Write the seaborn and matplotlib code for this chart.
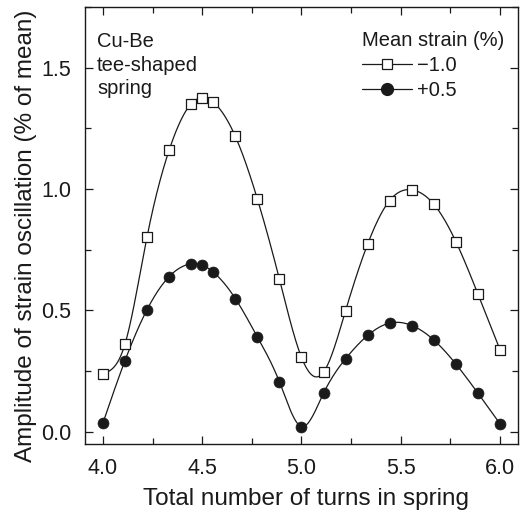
import numpy as np
import pandas as pd
import matplotlib
matplotlib.use("Agg")
import matplotlib.pyplot as plt
import seaborn as sns
from matplotlib.ticker import MultipleLocator
from matplotlib.lines import Line2D

# ---- data ----
turns_neg = [4.0, 4.111, 4.222, 4.333, 4.444, 4.5, 4.556, 4.667, 4.778, 4.889,
             5.0, 5.111, 5.222, 5.333, 5.444, 5.556, 5.667, 5.778, 5.889, 6.0]
amp_neg = [0.239, 0.361, 0.802, 1.159, 1.351, 1.377, 1.358, 1.217, 0.959, 0.629,
           0.307, 0.246, 0.499, 0.773, 0.953, 0.997, 0.937, 0.783, 0.567, 0.338]
turns_pos = [4.0, 4.111, 4.222, 4.333, 4.444, 4.5, 4.556, 4.667, 4.778, 4.889,
             5.0, 5.111, 5.222, 5.333, 5.444, 5.556, 5.667, 5.778, 5.889, 6.0]
amp_pos = [0.036, 0.293, 0.503, 0.639, 0.692, 0.687, 0.658, 0.549, 0.391, 0.206,
           0.022, 0.159, 0.301, 0.397, 0.448, 0.438, 0.378, 0.279, 0.159, 0.033]
series_labels = ["\u22121.0", "+0.5"]
legend_title = "Mean strain (%)"
note = "Cu-Be\ntee-shaped\nspring"
xticks = [4.0, 4.5, 5.0, 5.5, 6.0]
yticks = [0.0, 0.5, 1.0, 1.5]


def natural_spline(x, y, n=600):
    x = np.asarray(x, float); y = np.asarray(y, float)
    m = len(x); h = np.diff(x)
    A = np.zeros((m, m)); b = np.zeros(m)
    A[0, 0] = A[-1, -1] = 1
    for i in range(1, m - 1):
        A[i, i - 1] = h[i - 1]; A[i, i] = 2 * (h[i - 1] + h[i]); A[i, i + 1] = h[i]
        b[i] = 3 * ((y[i + 1] - y[i]) / h[i] - (y[i] - y[i - 1]) / h[i - 1])
    c = np.linalg.solve(A, b)
    bb = (y[1:] - y[:-1]) / h - h * (2 * c[:-1] + c[1:]) / 3
    d = (c[1:] - c[:-1]) / (3 * h)
    xs = np.linspace(x[0], x[-1], n)
    idx = np.clip(np.searchsorted(x, xs) - 1, 0, m - 2)
    dx = xs - x[idx]
    ys = y[idx] + bb[idx] * dx + c[idx] * dx ** 2 + d[idx] * dx ** 3
    return xs, ys


sns.set_theme(style="ticks")
plt.rcParams["font.family"] = ["Liberation Sans", "DejaVu Sans"]

fig = plt.figure(figsize=(5.2, 5.12), dpi=100)
ax = fig.add_axes([0.1635, 0.1328, 0.8325, 0.8535])

ink = "#1a1a1a"
xs1, ys1 = natural_spline(turns_neg, amp_neg)
xs2, ys2 = natural_spline(turns_pos, amp_pos)
sns.lineplot(x=xs1, y=ys1, ax=ax, color=ink, lw=0.9, sort=False)
sns.lineplot(x=xs2, y=ys2, ax=ax, color=ink, lw=0.9, sort=False)
sns.scatterplot(x=turns_neg, y=amp_neg, ax=ax, marker="s", s=46,
                facecolor="white", edgecolor=ink, linewidth=0.9, zorder=3)
sns.scatterplot(x=turns_pos, y=amp_pos, ax=ax, marker="o", s=62,
                color=ink, edgecolor=ink, linewidth=0.5, zorder=3)

h1 = Line2D([], [], color=ink, lw=0.9, marker="s", ms=6.5, mfc="white", mec=ink, mew=0.9)
h2 = Line2D([], [], color=ink, lw=0.9, marker="o", ms=8.5, mfc=ink, mec=ink)
leg = ax.legend([h1, h2], series_labels, title=legend_title, loc="upper right",
                frameon=False, fontsize=14.5, title_fontsize=14.5, handlelength=2.5,
                handletextpad=0.25, labelspacing=0.3, borderaxespad=0.3,
                borderpad=0.3, bbox_to_anchor=(0.996, 0.972))
leg._legend_box.align = "left"
for t in leg.get_texts():
    t.set_color(ink)
leg.get_title().set_color(ink)

ax.text(0.028, 0.942, note, transform=ax.transAxes, ha="left", va="top",
        fontsize=14.5, color=ink, linespacing=1.3)

ax.set_xlim(3.91, 6.09)
ax.set_ylim(-0.05, 1.75)
ax.set_xticks(xticks)
ax.set_yticks(yticks)
ax.set_xticklabels([f"{t:.1f}" for t in xticks])
ax.set_yticklabels([f"{t:.1f}" for t in yticks])
ax.xaxis.set_minor_locator(MultipleLocator(0.25))
ax.yaxis.set_minor_locator(MultipleLocator(0.25))
ax.tick_params(which="both", direction="in", top=True, right=True, colors=ink,
               labelsize=15.5, width=0.9)
ax.tick_params(which="major", length=6)
ax.tick_params(which="minor", length=4)
ax.tick_params(axis="x", which="major", pad=10)
ax.tick_params(axis="y", which="major", pad=10)
for s in ax.spines.values():
    s.set_linewidth(1.0); s.set_color(ink)
ax.set_xlabel("Total number of turns in spring", fontsize=17.5, color=ink)
ax.set_ylabel("Amplitude of strain oscillation (% of mean)", fontsize=17.5, color=ink)
ax.xaxis.set_label_coords(0.51, -0.101)
ax.yaxis.set_label_coords(-0.112, 0.476)

fig.savefig("out.png", dpi=100)
